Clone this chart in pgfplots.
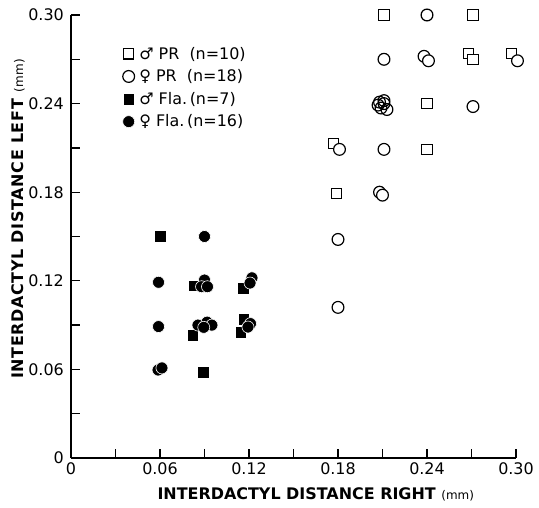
\documentclass[border=0pt]{standalone}
\usepackage{fontspec}
\setmainfont{DejaVu Sans}
\usepackage{pgfplots}
\pgfplotsset{compat=1.18}
\begin{document}
\begin{tikzpicture}
\useasboundingbox (-71bp,-50bp) rectangle (468bp,458bp);
\begin{axis}[
  scale only axis, width=445bp, height=443bp,
  xmin=0, xmax=0.30, ymin=0, ymax=0.30,
  axis lines=left,
  axis line style={-, line width=1.8pt},
  clip=false,
  xtick={0,0.06,0.12,0.18,0.24,0.30},
  xticklabels={0,0.06,0.12,0.18,0.24,0.30},
  minor xtick={0.03,0.09,0.15,0.21,0.27},
  ytick={0,0.06,0.12,0.18,0.24,0.30},
  yticklabels={0,0.06,0.12,0.18,0.24,0.30},
  minor ytick={0.03,0.09,0.15,0.21,0.27},
  tick align=inside,
  major tick length=9bp, minor tick length=9bp,
  every tick/.style={black, line width=1.4pt},
  tick label style={font=\fontsize{16}{18}\selectfont},
  xticklabel style={inner sep=1pt, yshift=-3bp},
  yticklabel style={inner sep=1pt, xshift=-6bp},
  xlabel={\bfseries INTERDACTYL DISTANCE RIGHT {\mdseries\fontsize{12}{14}\selectfont(mm)}},
  ylabel={\bfseries\addfontfeatures{LetterSpace=4} INTERDACTYL DISTANCE LEFT {\mdseries\fontsize{12}{14}\selectfont(mm)}},
  label style={font=\fontsize{16}{18}\selectfont},
  xlabel style={at={(axis description cs:0.55,0)}, anchor=center, yshift=-36bp},
  ylabel style={at={(axis description cs:-0.119,0.54)}, anchor=center},
  legend style={draw=none, fill=none, at={(axis description cs:0.109,0.937)}, anchor=north west,
    font=\fontsize{16}{18}\selectfont, row sep=5bp, cells={anchor=west}},
  legend cell align=left,
]
% PR males: open squares
\addplot[only marks, mark=square*, mark size=5.2bp,
  mark options={draw=black, fill=white, line width=1.2pt}] coordinates {
  (0.211,0.300) (0.271,0.300) (0.268,0.274) (0.271,0.270) (0.297,0.274)
  (0.240,0.240) (0.177,0.213) (0.240,0.209) (0.179,0.179)
};
\addlegendentry{\,♂ PR\ \ (n=10)}
% PR females: open circles
\addplot[only marks, mark=*, mark size=5.9bp,
  mark options={draw=black, fill=white, line width=1.2pt}] coordinates {
  (0.240,0.300) (0.211,0.270) (0.238,0.272) (0.241,0.269) (0.301,0.269)
  (0.271,0.238) (0.181,0.209) (0.211,0.209) (0.208,0.180) (0.210,0.178)
  (0.180,0.148) (0.180,0.102)
};
\addlegendentry{\,♀ PR\ \ (n=18)}
% Fla males: filled squares
\addplot[only marks, mark=square*, mark size=5.8bp,
  mark options={draw=white, fill=black, line width=0.6pt}] coordinates {
  (0.060,0.150) (0.083,0.1165) (0.116,0.115) (0.082,0.083)
  (0.1166,0.094) (0.1146,0.085) (0.089,0.058)
};
\addlegendentry{\,♂ Fla.\,(n=7)}
% Fla females: filled circles
\addplot[only marks, mark=*, mark size=6.0bp,
  mark options={draw=white, fill=black, line width=0.6pt}] coordinates {
  (0.090,0.150) (0.059,0.119)
  (0.090,0.1205) (0.088,0.116) (0.092,0.116)
  (0.122,0.122) (0.1207,0.1185)
  (0.059,0.089)
  (0.0856,0.090) (0.0917,0.092) (0.095,0.090) (0.0895,0.0885)
  (0.121,0.091) (0.1193,0.0887)
  (0.0587,0.0596) (0.0613,0.061)
};
\addlegendentry{\,♀ Fla.\,(n=16)}
% PR females cluster (transparent outlines)
\addplot[only marks, mark=o, mark size=5.9bp, forget plot,
  mark options={draw=black, line width=1.2pt}] coordinates {
  (0.208,0.241) (0.211,0.240) (0.209,0.237) (0.213,0.236) (0.211,0.242) (0.207,0.239)
};
\end{axis}
\end{tikzpicture}
\end{document}
